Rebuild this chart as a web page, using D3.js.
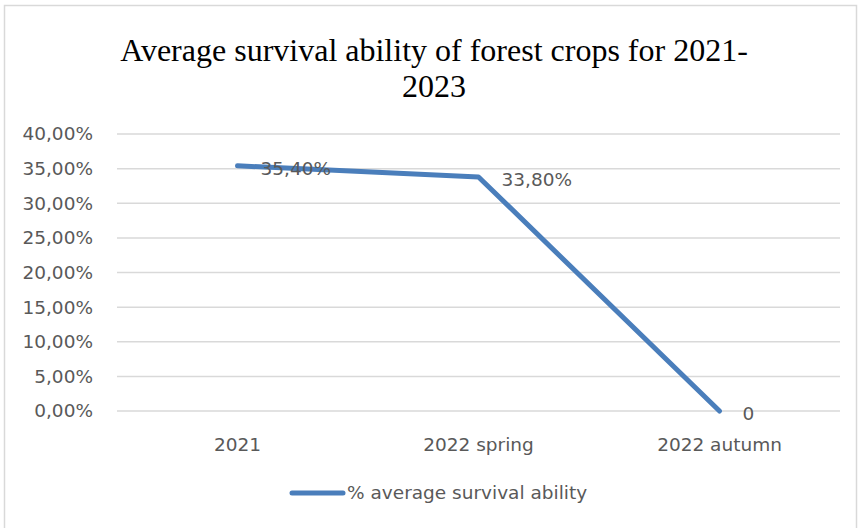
<!DOCTYPE html>
<html lang="en">
<head>
<meta charset="UTF-8">
<title>Average survival ability</title>
<style>
  body { margin: 0; background: #fff; }
  .grid line { stroke: #d9d9d9; stroke-width: 1.5; }
  .tick-lbl { font-family: "DejaVu Sans", sans-serif; font-size: 18.5px; fill: #595959; }
  .title { font-family: "Liberation Serif", "Times New Roman", serif; font-size: 32px; fill: #000; }
  .line { fill: none; stroke: #4a7ebb; stroke-width: 5; stroke-linejoin: round; stroke-linecap: round; }
</style>
</head>
<body>
<svg id="chart" width="861" height="528"></svg>
<script src="https://cdn.jsdelivr.net/npm/d3@7"></script>
<script>
const categories = ["2021", "2022 spring", "2022 autumn"];
const values = [0.354, 0.338, 0];
const valueLabels = ["35,40%", "33,80%", "0"];
const yTicks = [0, 0.05, 0.10, 0.15, 0.20, 0.25, 0.30, 0.35, 0.40];
const seriesName = "% average survival ability";

const svg = d3.select("#chart");
const plotLeft = 117, plotRight = 840, plotTop = 134, plotBottom = 411;

// chart frame
svg.append("rect").attr("x", 4.5).attr("y", 5.5).attr("width", 852).attr("height", 530)
  .attr("fill", "#fff").attr("stroke", "#d9d9d9").attr("stroke-width", 1.5);

const x = d3.scaleBand().domain(categories).range([plotLeft, plotRight]);
const y = d3.scaleLinear().domain([0, 0.4]).range([plotBottom, plotTop]);
const fmt = v => d3.format(".2f")(v * 100).replace(".", ",") + "%";

// title
svg.append("text").attr("class", "title").attr("x", 434).attr("y", 61).attr("text-anchor", "middle")
  .text("Average survival ability of forest crops for 2021-");
svg.append("text").attr("class", "title").attr("x", 434).attr("y", 97).attr("text-anchor", "middle")
  .text("2023");

// gridlines
svg.append("g").attr("class", "grid").selectAll("line").data(yTicks).join("line")
  .attr("x1", plotLeft).attr("x2", plotRight).attr("y1", d => y(d)).attr("y2", d => y(d));

// y labels
svg.append("g").selectAll("text").data(yTicks).join("text").attr("class", "tick-lbl")
  .attr("x", 93).attr("y", d => y(d)).attr("dy", "0.35em").attr("text-anchor", "end")
  .text(fmt);

// x labels
svg.append("g").selectAll("text").data(categories).join("text").attr("class", "tick-lbl")
  .attr("x", d => x(d) + x.bandwidth() / 2).attr("y", 445).attr("dy", "0.35em").attr("text-anchor", "middle")
  .text(d => d);

const pts = categories.map((c, i) => ({ c, v: values[i], lbl: valueLabels[i] }));
const line = d3.line().x(d => x(d.c) + x.bandwidth() / 2).y(d => y(d.v));
svg.append("path").datum(pts).attr("class", "line").attr("d", line);

// data labels
svg.append("g").selectAll("text").data(pts).join("text").attr("class", "tick-lbl")
  .attr("x", d => x(d.c) + x.bandwidth() / 2 + 23).attr("y", d => y(d.v) + 2.5).attr("dy", "0.35em")
  .text(d => d.lbl);

// legend
svg.append("line").attr("x1", 292).attr("x2", 343).attr("y1", 493).attr("y2", 493)
  .attr("stroke", "#4a7ebb").attr("stroke-width", 5).attr("stroke-linecap", "round");
svg.append("text").attr("class", "tick-lbl").attr("x", 347).attr("y", 493).attr("dy", "0.35em")
  .text(seriesName);
</script>
</body>
</html>
